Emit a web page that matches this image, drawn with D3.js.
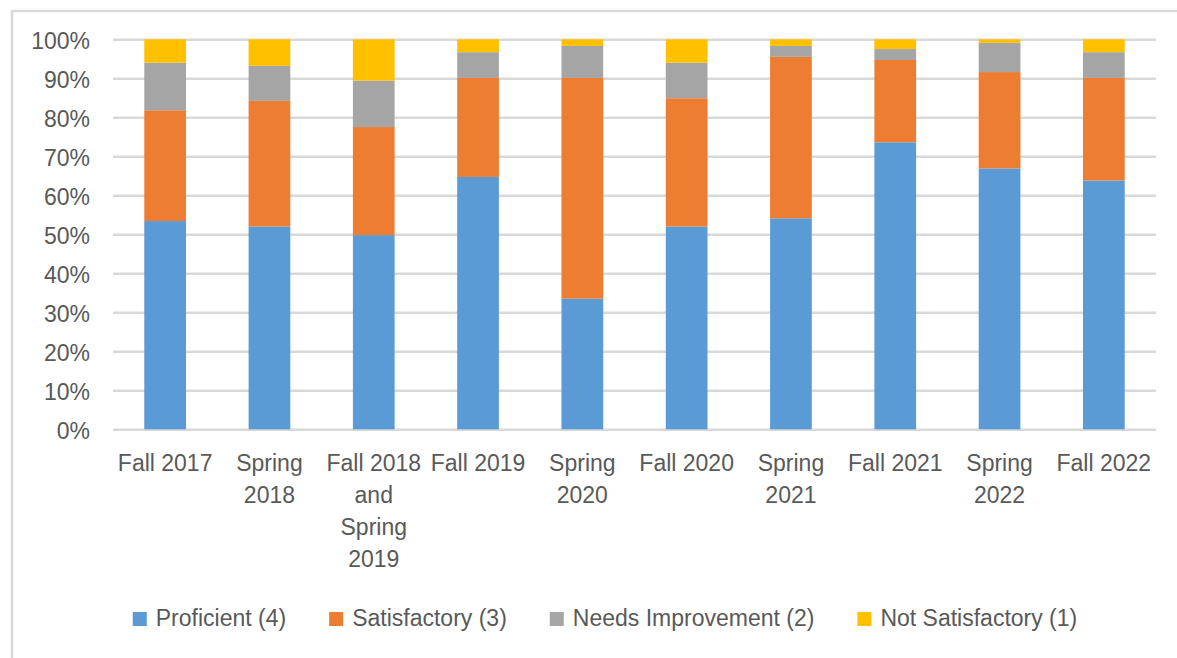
<!DOCTYPE html>
<html>
<head>
<meta charset="utf-8">
<script src="https://cdn.jsdelivr.net/npm/d3@7"></script>
<style>
  body { margin: 0; background: #fff; }
  text { font-family: "Liberation Sans", Arial, sans-serif; fill: #595959; }
</style>
</head>
<body>
<div id="chart"></div>
<script>
var WIDTH = 1177
var HEIGHT = 658
var FONT = 23

// data (percent of each term)
var terms = ["Fall 2017", "Spring 2018", "Fall 2018 and Spring 2019", "Fall 2019", "Spring 2020",
  "Fall 2020", "Spring 2021", "Fall 2021", "Spring 2022", "Fall 2022"]
var proficient      = [53.4, 52.0, 49.8, 64.7, 33.5, 52.0, 54.1, 73.6, 66.9, 63.8]
var satisfactory    = [28.4, 32.2, 27.7, 25.4, 56.6, 32.9, 41.4, 21.1, 24.7, 26.3]
var needsImprove    = [12.2,  9.0, 11.9,  6.6,  8.2,  9.1,  2.8,  2.8,  7.5,  6.6]
var notSatisfactory = [ 6.0,  6.8, 10.6,  3.3,  1.7,  6.0,  1.7,  2.5,  0.9,  3.3]
var seriesNames = ["Proficient (4)", "Satisfactory (3)", "Needs Improvement (2)", "Not Satisfactory (1)"]
var colors = ["#5B9BD5", "#ED7D31", "#A5A5A5", "#FFC000"]
var yTicks = [0, 10, 20, 30, 40, 50, 60, 70, 80, 90, 100]

var keys = ["p", "s", "n", "ns"]
var rows = terms.map(function(t, i) {
  return { term: t, p: proficient[i], s: satisfactory[i], n: needsImprove[i], ns: notSatisfactory[i] }
})
var stacked = d3.stack().keys(keys).offset(d3.stackOffsetExpand)(rows)

var margin = { left: 113, right: WIDTH - 1156, top: 39.3, bottom: HEIGHT - 429.3 }

var svg = d3.select("#chart").append("svg")
  .attr("width", WIDTH)
  .attr("height", HEIGHT)

// outer chart border
svg.append("rect")
  .attr("x", 12).attr("y", 11)
  .attr("width", WIDTH + 20).attr("height", HEIGHT + 20)
  .attr("fill", "none").attr("stroke", "#D9D9D9").attr("stroke-width", 2.5)

var x = d3.scaleBand()
  .domain(terms)
  .range([margin.left, WIDTH - margin.right])
  .paddingInner(0.6)
  .paddingOuter(0.3)

var y = d3.scaleLinear()
  .domain([0, 1])
  .range([HEIGHT - margin.bottom, margin.top])

// gridlines + y labels
var yAxis = d3.axisLeft(y)
  .tickValues(yTicks.map(function(d) { return d / 100 }))
  .tickFormat(d3.format(".0%"))
  .tickSize(-(WIDTH - margin.left - margin.right))
  .tickPadding(23)

var gy = svg.append("g")
  .attr("transform", "translate(" + margin.left + ",0)")
  .call(yAxis)
gy.select(".domain").remove()
gy.selectAll(".tick line").attr("stroke", "#D9D9D9").attr("stroke-width", 2.5)
gy.selectAll(".tick text")
  .attr("font-size", FONT)
  .attr("dy", "0.38em")
  .style("font-family", "Liberation Sans, Arial, sans-serif")
  .attr("fill", "#595959")

// bars
svg.append("g").selectAll("g")
  .data(stacked)
  .enter().append("g")
  .attr("fill", function(d, i) { return colors[i] })
  .selectAll("rect")
  .data(function(d) { return d })
  .enter().append("rect")
  .attr("x", function(d) { return x(d.data.term) })
  .attr("y", function(d) { return y(d[1]) })
  .attr("height", function(d) { return y(d[0]) - y(d[1]) })
  .attr("width", x.bandwidth())

// x labels, wrapped like the original
var xl = svg.append("g")
xl.selectAll("text")
  .data(terms)
  .enter().append("text")
  .attr("text-anchor", "middle")
  .attr("font-size", FONT)
  .attr("x", function(d) { return x(d) + x.bandwidth() / 2 })
  .attr("y", 471)
  .each(function(d) {
    var el = d3.select(this)
    var words = d.split(" ")
    var line = []
    var ts = el.append("tspan").attr("x", el.attr("x")).attr("dy", 0)
    words.forEach(function(w) {
      line.push(w)
      ts.text(line.join(" "))
      if (ts.node().getComputedTextLength() > 100 && line.length > 1) {
        line.pop()
        ts.text(line.join(" "))
        line = [w]
        ts = el.append("tspan").attr("x", el.attr("x")).attr("dy", 32).text(w)
      }
    })
  })

// legend
var legend = svg.append("g")
var lx = 0
var gap = 43
var items = legend.selectAll("g")
  .data(seriesNames)
  .enter().append("g")
items.append("rect")
  .attr("width", 14).attr("height", 14)
  .attr("y", 612)
  .attr("fill", function(d, i) { return colors[i] })
items.append("text")
  .attr("x", 23)
  .attr("y", 626)
  .attr("font-size", FONT)
  .text(function(d) { return d })
items.each(function() {
  var g = d3.select(this)
  g.attr("transform", "translate(" + lx + ",0)")
  lx += 23 + g.select("text").node().getComputedTextLength() + gap
})
lx -= gap
legend.attr("transform", "translate(" + (605 - lx / 2) + ",0)")
</script>
</body>
</html>
